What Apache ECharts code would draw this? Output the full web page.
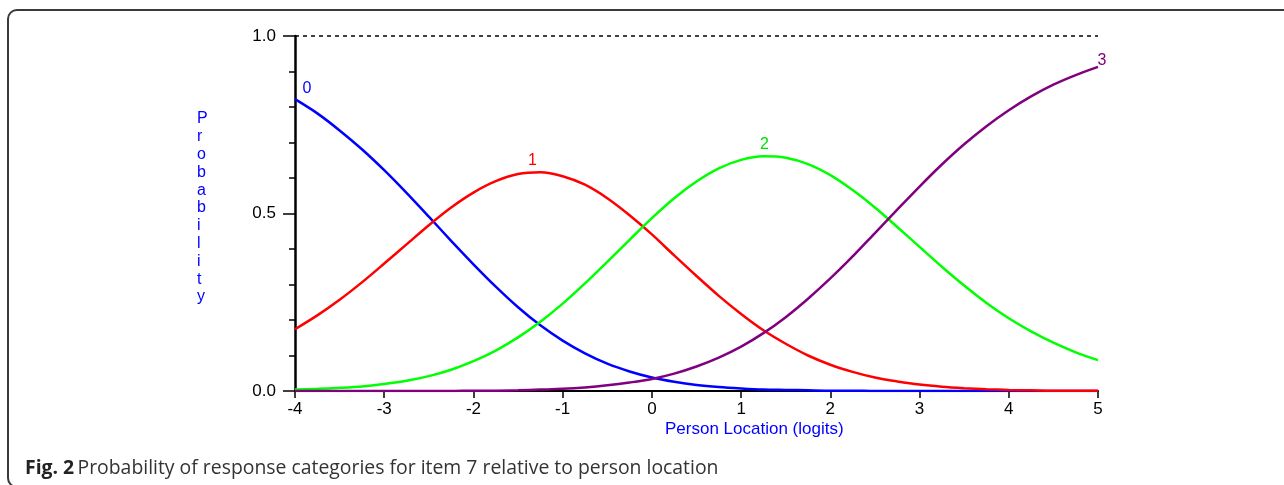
<!DOCTYPE html>
<html>
<head>
<meta charset="utf-8">
<script src="https://cdn.jsdelivr.net/npm/echarts@6/dist/echarts.min.js"></script>
<style>html,body{margin:0;padding:0;background:#fff;}#c{width:1284px;height:485px;}</style>
</head>
<body>
<div id="c"></div>
<script>
// Person location (logits)
var xs = [-4,-3.75,-3.5,-3.25,-3,-2.75,-2.5,-2.25,-2,-1.75,-1.5,-1.25,-1,-0.75,-0.5,-0.25,0,0.25,0.5,0.75,1,1.25,1.5,1.75,2,2.25,2.5,2.75,3,3.25,3.5,3.75,4,4.25,4.5,4.75,5];
// Category 0 (blue)
var p0 = [0.822,0.782,0.734,0.681,0.622,0.558,0.491,0.423,0.357,0.294,0.236,0.185,0.142,0.106,0.077,0.055,0.038,0.026,0.017,0.011,0.007,0.004,0.003,0.002,0.001,0.001,0,0,0,0,0,0,0,0,0,0,0];
// Category 1 (red)
var p1 = [0.174,0.213,0.257,0.306,0.359,0.413,0.467,0.517,0.559,0.591,0.611,0.616,0.605,0.581,0.543,0.495,0.441,0.382,0.324,0.268,0.217,0.171,0.133,0.100,0.074,0.054,0.038,0.027,0.018,0.012,0.008,0.005,0.003,0.002,0.001,0.001,0.001];
// Category 2 (green)
var p2 = [0.004,0.006,0.009,0.013,0.020,0.029,0.042,0.060,0.084,0.114,0.151,0.195,0.246,0.303,0.364,0.426,0.487,0.543,0.590,0.627,0.651,0.661,0.657,0.639,0.608,0.566,0.517,0.462,0.406,0.350,0.297,0.248,0.205,0.168,0.136,0.109,0.087];
// Category 3 (purple)
var p3 = [0,0,0,0,0,0,0,0,0.001,0.001,0.002,0.004,0.006,0.010,0.016,0.024,0.034,0.049,0.069,0.094,0.125,0.163,0.208,0.260,0.317,0.379,0.445,0.511,0.576,0.638,0.695,0.746,0.791,0.830,0.863,0.890,0.913];
var yTicks = [0, 0.5, 1.0];
var catLabels = ['0','1','2','3'];

function pairs(arr){ return xs.map(function(x,i){ return [x, arr[i]]; }); }
var FONT = '"Liberation Sans", Arial, sans-serif';

function mp(label, xi, arr, color, offset){
  return {
    symbol: 'circle', symbolSize: 1, silent: true,
    itemStyle: {color: 'rgba(0,0,0,0)'},
    label: {show: true, position: 'top', distance: 4, offset: offset, color: color, fontSize: 16, fontFamily: FONT, formatter: label},
    data: [{coord: [xs[xi], arr[xi]], value: label}]
  };
}

var chart = echarts.init(document.getElementById('c'), null, {renderer: 'canvas'});
var option = {
  animation: false,
  backgroundColor: '#ffffff',
  grid: {left: 295, top: 36, width: 803, height: 355, containLabel: false},
  xAxis: {
    type: 'value', min: -4, max: 5, interval: 1,
    axisLine: {show: true, onZero: false, lineStyle: {color: '#000', width: 2}},
    axisTick: {show: true, length: 7, lineStyle: {color: '#000', width: 1.5}},
    axisLabel: {color: '#000', fontSize: 17, fontFamily: FONT, margin: 10},
    splitLine: {show: false}
  },
  yAxis: {
    type: 'value', min: 0, max: 1, interval: 0.5,
    axisLine: {show: true, onZero: false, lineStyle: {color: '#000', width: 2.5}},
    axisTick: {show: true, length: 12, lineStyle: {color: '#000', width: 1.5}},
    minorTick: {show: true, splitNumber: 5, length: 6, lineStyle: {color: '#000', width: 1.5}},
    axisLabel: {color: '#000', fontSize: 17, fontFamily: FONT, margin: 19,
      formatter: function(v){ return v.toFixed(1); }},
    splitLine: {show: false}
  },
  series: [
    {type: 'line', name: catLabels[0], data: pairs(p0), showSymbol: false, smooth: 0.3,
      lineStyle: {color: '#0000ff', width: 2.5}, itemStyle: {color: '#0000ff'},
      markPoint: mp(catLabels[0], 0, p0, '#0000ff', [12, 2]),
      markLine: {silent: true, symbol: ['none','none'], label: {show: false},
        lineStyle: {color: '#000', type: [4, 4], width: 1.5}, data: [{yAxis: yTicks[2]}]}
    },
    {type: 'line', name: catLabels[1], data: pairs(p1), showSymbol: false, smooth: 0.3,
      lineStyle: {color: '#ff0000', width: 2.5}, itemStyle: {color: '#ff0000'},
      markPoint: mp(catLabels[1], 11, p1, '#ff0000', [-8, 1])},
    {type: 'line', name: catLabels[2], data: pairs(p2), showSymbol: false, smooth: 0.3,
      lineStyle: {color: '#00ff00', width: 2.5}, itemStyle: {color: '#00ff00'},
      markPoint: mp(catLabels[2], 21, p2, '#00e000', [1, 1])},
    {type: 'line', name: catLabels[3], data: pairs(p3), showSymbol: false, smooth: 0.3,
      lineStyle: {color: '#800080', width: 2.5}, itemStyle: {color: '#800080'},
      markPoint: mp(catLabels[3], 36, p3, '#800080', [4, 6])}
  ],
  graphic: [
    {type: 'rect', shape: {x: 8, y: 10, width: 1400, height: 477, r: 9},
      style: {fill: 'none', stroke: '#3a3a3a', lineWidth: 2}, silent: true},
    {type: 'text', left: 197, top: 110,
      style: {text: 'P\nr\no\nb\na\nb\ni\nl\ni\nt\ny', fill: '#0000ff', fontSize: 16, fontFamily: FONT,
        lineHeight: 17.8, align: 'center'}},
    {type: 'text', left: 665, top: 421,
      style: {text: 'Person Location (logits)', fill: '#0000ff', fontSize: 17, fontFamily: FONT}},
    {type: 'text', left: 25, top: 459,
      style: {rich: {b: {fontWeight: 'bold', fontSize: 19.4, fontFamily: '"Open Sans", sans-serif', fill: '#222'},
        n: {fontSize: 19.4, fontFamily: '"Open Sans", sans-serif', fill: '#333'}},
        text: '{b|Fig. 2} {n|Probability of response categories for item 7 relative to person location}'}}
  ]
};
chart.setOption(option);
</script>
</body>
</html>
